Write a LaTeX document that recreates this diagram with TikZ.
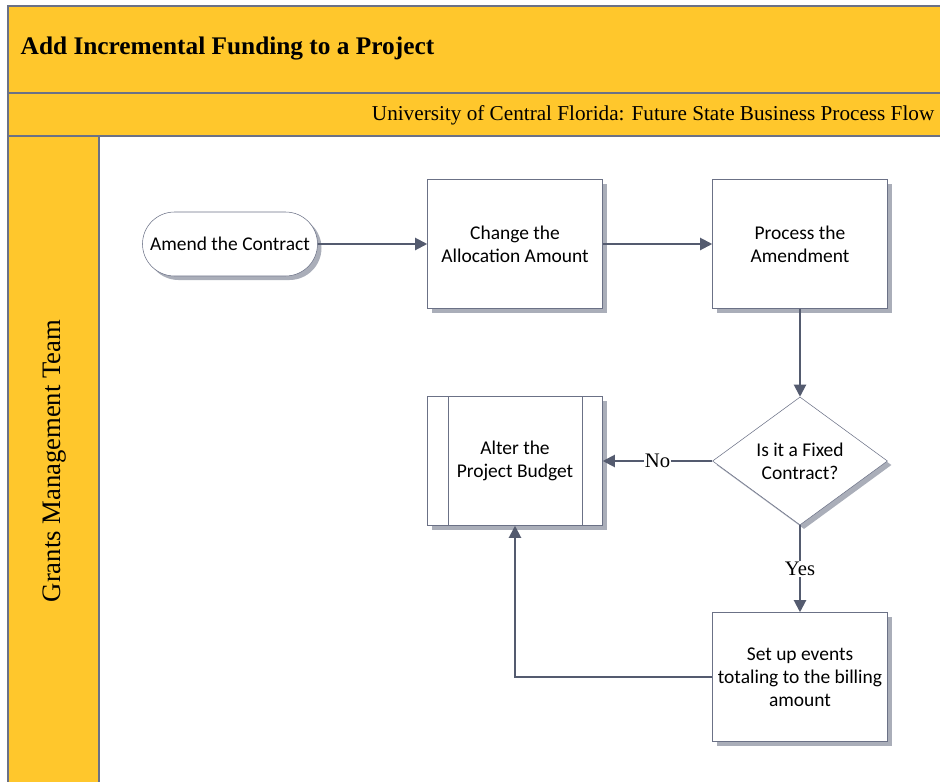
\documentclass[tikz,border=0pt]{standalone}
\usepackage{fontspec}
\setmainfont{Liberation Serif}
\newfontfamily\boxfont{Carlito}
\usetikzlibrary{shapes.geometric,shadows,calc,arrows.meta}

\definecolor{ucfgold}{HTML}{FFC72C}
\definecolor{laneline}{HTML}{6B7186}
\definecolor{flowline}{HTML}{545B6F}
\definecolor{shadowgray}{HTML}{AAAEB9}

\tikzset{
  shade box/.style={drop shadow={shadow xshift=3pt,shadow yshift=-3pt,fill=shadowgray,opacity=1}},
  task/.style={draw=laneline,fill=white,shade box,minimum width=131.25pt,minimum height=96.75pt,
    align=center,font=\boxfont\fontsize{14.6}{17.2}\selectfont},
  startend/.style={task,minimum height=48pt,rounded corners=24pt},
  choice/.style={diamond,draw=laneline,fill=white,shade box,minimum width=131.25pt,minimum height=96pt,
    inner sep=0pt,align=center,font=\boxfont\fontsize{14.6}{17.2}\selectfont},
  flow/.style={draw=flowline,line width=1.5pt,-{Triangle[length=9pt,width=9pt]}},
  answer/.style={fill=white,inner sep=1pt,font=\fontsize{15.5}{17}\selectfont}
}

\begin{document}
\begin{tikzpicture}[x=0.75pt,y=-0.75pt]
\useasboundingbox (0,0) rectangle (940,782);
\clip (0,0) rectangle (940,782);

% pool header and lane
\fill[ucfgold] (8,6) rectangle (950,136);
\fill[ucfgold] (8,136) rectangle (99,790);
\draw[laneline,line width=1.2pt] (8,790) -- (8,6) -- (950,6);
\draw[laneline,line width=1.2pt] (8,93) -- (950,93);
\draw[laneline,line width=1.2pt] (8,136) -- (950,136);
\draw[laneline,line width=1.2pt] (99,136) -- (99,790);

\node[anchor=west,font=\bfseries\fontsize{19}{22}\selectfont] (title) at (16,49) {Add Incremental Funding to a Project};
\node[anchor=east,font=\fontsize{15.9}{18}\selectfont] (subtitle) at (939,115) {University of Central Florida: Future State Business Process Flow};
\node[rotate=90,font=\fontsize{20}{22}\selectfont] (lane) at (55,461) {Grants Management Team};

% steps
\node[startend] (amend) at (230,244) {Amend the Contract};
\node[task] (change) at (515,244) {Change the\\Allocation Amount};
\node[task] (process) at (800,244) {Process the\\Amendment};
\node[choice] (fixed) at (800,461) {Is it a Fixed\\Contract?};
\node[task] (alter) at (515,461) {Alter the\\Project Budget};
\node[task] (events) at (800,677) {Set up events\\totaling to the billing\\amount};

% predefined process bars
\draw[laneline] ($(alter.north west)+(21,0)$) -- ($(alter.south west)+(21,0)$);
\draw[laneline] ($(alter.north east)+(-21,0)$) -- ($(alter.south east)+(-21,0)$);

% connectors
\draw[flow] (amend) -- (change);
\draw[flow] (change) -- (process);
\draw[flow] (process) -- (fixed);
\draw[flow] (fixed) -- node[answer] {No} (alter);
\draw[flow] (fixed) -- node[answer] {Yes} (events);
\draw[flow] (events.west) -| (alter.south);

\end{tikzpicture}
\end{document}
